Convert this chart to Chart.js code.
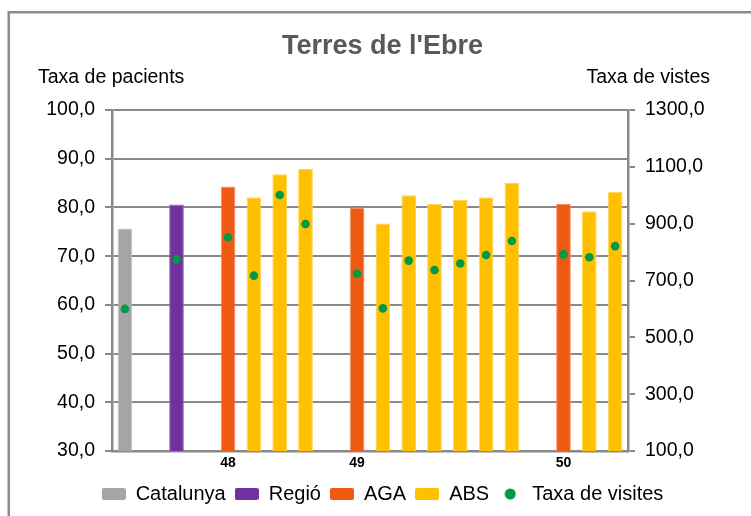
<!DOCTYPE html>
<html>
<head>
<meta charset="utf-8">
<title>Terres de l'Ebre</title>
<script src="https://cdn.jsdelivr.net/npm/chart.js@4"></script>
<style>
  html, body { margin: 0; padding: 0; background: #fff; }
  #chart { display: block; }
</style>
</head>
<body>
<canvas id="chart" width="751" height="516"></canvas>
<script>
// one slot per bar, only the AGA slots carry a label
const categories = ['', '', '', '', '48', '', '', '', '', '49', '', '', '', '', '', '', '', '50', '', ''];

// Taxa de pacients (left axis)
const catalunya = [75.7, null, null, null, null, null, null, null, null, null, null, null, null, null, null, null, null, null, null, null];
const regio     = [null, null, 80.6, null, null, null, null, null, null, null, null, null, null, null, null, null, null, null, null, null];
const aga       = [null, null, null, null, 84.3, null, null, null, null, 80.0, null, null, null, null, null, null, null, 80.7, null, null];
const abs       = [null, null, null, null, null, 82.1, 86.8, 87.9, null, null, 76.7, 82.5, 80.7, 81.5, 82.1, 85.0, null, null, 79.2, 83.2];

// Taxa de visites (right axis)
const visites   = [600, null, 773, null, 852, 717, 1001, 899, null, 724, 602, 770, 737, 760, 790, 839, null, 792, 782, 821];

// axis ranges: [min, max, step]
const pacientsTicks = [30, 100, 10];
const visitesTicks  = [100, 1300, 200];

const FONT = "'Liberation Sans', Arial, sans-serif";
const GRID = '#898989';

Chart.defaults.font.family = FONT;
Chart.defaults.color = '#000';

function swatch(color){
    const c = document.createElement('canvas');
    c.width = 24; c.height = 12;
    const g = c.getContext('2d');
    g.fillStyle = color;
    g.beginPath();
    if (g.roundRect) g.roundRect(0, 0, 24, 12, 2); else g.rect(0, 0, 24, 12);
    g.fill();
    return c;
}
function dot(color){
    const c = document.createElement('canvas');
    c.width = 12; c.height = 12;
    const g = c.getContext('2d');
    g.fillStyle = color;
    g.beginPath();
    g.arc(6, 6, 5.5, 0, Math.PI * 2);
    g.fill();
    return c;
}

function comma(v){
    return Number(v).toFixed(1).replace('.', ',');
}

const extras = {
    id: 'extras',
    beforeDraw(chart){
        const ctx = chart.ctx;
        ctx.save();
        ctx.strokeStyle = '#8c8c8c';
        ctx.lineWidth = 2.5;
        ctx.beginPath();
        ctx.moveTo(8.75, 530);
        ctx.lineTo(8.75, 12.25);
        ctx.lineTo(760, 12.25);
        ctx.stroke();
        ctx.restore();
    },
    afterDraw(chart){
        const ctx = chart.ctx;
        const area = chart.chartArea;
        ctx.save();
        ctx.fillStyle = '#000';
        ctx.font = '19.5px ' + FONT;
        ctx.textBaseline = 'middle';
        ctx.textAlign = 'left';
        ctx.fillText('Taxa de pacients', 38, area.top - 32);
        ctx.textAlign = 'right';
        ctx.fillText('Taxa de vistes', 710, area.top - 32);
        ctx.restore();
    }
};

function barSet(label, data, color, edge){
    return {
        type: 'bar',
        label: label,
        data: data,
        backgroundColor: color,
        borderColor: edge,
        borderWidth: 1,
        grouped: false,
        categoryPercentage: 1,
        barPercentage: 0.57,
        yAxisID: 'y',
        order: 2,
        legendIcon: swatch(color)
    };
}

const datasets = [
    barSet('Catalunya', catalunya, '#A5A5A5', '#C4C4C4'),
    barSet('Regió', regio, '#7030A0', '#9665BC'),
    barSet('AGA', aga, '#EF5A13', '#F58D62'),
    barSet('ABS', abs, '#FFC000', '#FFD45C'),
    {
        type: 'line',
        label: 'Taxa de visites',
        data: visites,
        showLine: false,
        pointRadius: 4.3,
        pointBackgroundColor: '#009A46',
        pointBorderWidth: 0,
        yAxisID: 'y1',
        order: 1,
        legendIcon: dot('#009A46')
    }
];

new Chart(document.getElementById('chart'), {
    data: { labels: categories, datasets: datasets },
    plugins: [extras],
    options: {
        responsive: false,
        animation: false,
        events: [],
        layout: { padding: { top: 30.8, left: 14, right: 0, bottom: 2 } },
        plugins: {
            title: {
                display: true,
                text: "Terres de l'Ebre",
                color: '#595959',
                font: { size: 27, weight: 'bold' },
                padding: { top: 0, bottom: 46.8 }
            },
            legend: {
                position: 'bottom',
                labels: {
                    color: '#000',
                    font: { size: 20 },
                    usePointStyle: true,
                    pointStyleWidth: 24,
                    boxHeight: 12,
                    padding: 9,
                    generateLabels(chart){
                        return chart.data.datasets.map((ds, i) => ({
                            text: ds.label,
                            pointStyle: ds.legendIcon,
                            fillStyle: 'transparent',
                            strokeStyle: 'transparent',
                            lineWidth: 0,
                            fontColor: '#000',
                            datasetIndex: i
                        }));
                    }
                }
            },
            tooltip: { enabled: false }
        },
        scales: {
            x: {
                type: 'category',
                offset: true,
                grid: { display: false, drawTicks: false },
                border: { display: true, color: GRID, width: 2.5 },
                ticks: {
                    autoSkip: false,
                    maxRotation: 0,
                    padding: 4,
                    color: '#000',
                    font: { size: 14, weight: 'bold' }
                },
                afterFit(scale){ scale.height = 24; }
            },
            y: {
                position: 'left',
                min: pacientsTicks[0],
                max: pacientsTicks[1],
                grid: { color: GRID, lineWidth: 2, tickLength: 7 },
                border: { display: true, color: GRID, width: 2.5 },
                ticks: {
                    stepSize: pacientsTicks[2],
                    padding: 10,
                    color: '#000',
                    font: { size: 19.5 },
                    callback: comma
                },
                afterFit(scale){ scale.width = 98; }
            },
            y1: {
                position: 'right',
                min: visitesTicks[0],
                max: visitesTicks[1],
                grid: { drawOnChartArea: false, color: GRID, lineWidth: 2, tickLength: 7 },
                border: { display: true, color: GRID, width: 2.5 },
                ticks: {
                    stepSize: visitesTicks[2],
                    padding: 10,
                    color: '#000',
                    font: { size: 19.5 },
                    callback: comma
                },
                afterFit(scale){ scale.width = 123; }
            }
        }
    }
});
</script>
</body>
</html>
